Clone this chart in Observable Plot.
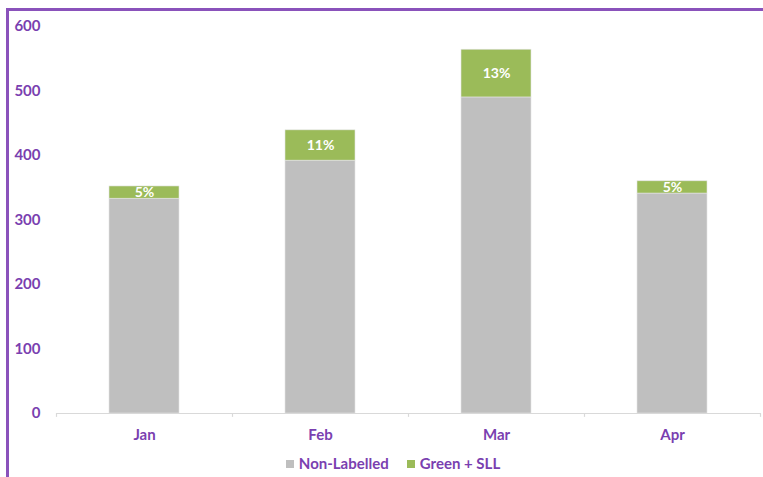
<!DOCTYPE html>
<html>
<head>
<meta charset="utf-8">
<script src="https://cdn.jsdelivr.net/npm/d3@7"></script>
<script src="https://cdn.jsdelivr.net/npm/@observablehq/plot@0.6"></script>
<style>
  html, body { margin: 0; padding: 0; background: #fff; }
  #wrap { position: relative; width: 763px; height: 477px; overflow: hidden; font-family: Lato, "Open Sans", sans-serif; }
  #frame { position: absolute; left: 6px; top: 8px; width: 800px; height: 500px;
           border-left: 3px solid #8a52bb; border-top: 3px solid #8a52bb; box-sizing: border-box; }
  #chart { position: absolute; left: 0; top: 0; }
  #legend { position: absolute; left: 0; top: 454px; width: 786px; text-align: center;
            font-weight: bold; font-size: 15px; color: #7a3fb0; }
  #legend span.item { margin: 0 9px; }
  #legend span.sw { display: inline-block; width: 8px; height: 8px; margin-right: 5px; vertical-align: 1px; }
</style>
</head>
<body>
<div id="wrap">
  <div id="frame"></div>
  <div id="chart"></div>
  <div id="legend"></div>
</div>
<script>
const months = ["Jan", "Feb", "Mar", "Apr"];
const nonLabelled = [333, 392, 490, 341];
const greenSLL = [19, 47, 74, 19];
const pctLabels = ["5%", "11%", "13%", "5%"];
const seriesNames = ["Non-Labelled", "Green + SLL"];
const seriesColors = ["#bfbfbf", "#9bbb59"];
const yTicks = [0, 100, 200, 300, 400, 500, 600];

const purple = "#7a3fb0";

const rows = [];
months.forEach((m, i) => {
  rows.push({month: m, series: seriesNames[0], value: nonLabelled[i]});
  rows.push({month: m, series: seriesNames[1], value: greenSLL[i]});
});
const labels = months.map((m, i) => ({month: m, mid: nonLabelled[i] + greenSLL[i] / 2, text: pctLabels[i]}));

const W = 763, H = 450, mL = 56, mR = 3;
const step = (W - mL - mR) / months.length;
const boundaries = months.map((m, i) => ({month: m, dx: -step / 2}))
  .concat([{month: months[months.length - 1], dx: step / 2}]);

const chart = Plot.plot({
  width: W,
  height: H,
  marginLeft: mL,
  marginRight: mR,
  marginTop: 26,
  marginBottom: 37,
  style: {fontFamily: "Lato, 'Open Sans', sans-serif", fontWeight: "bold", fontSize: "15px", color: purple, background: "transparent"},
  x: {domain: months, paddingInner: 0.6, paddingOuter: 0.3, label: null, tickSize: 0, tickPadding: 16},
  y: {domain: [0, 600], ticks: yTicks, label: null, tickSize: 0, tickPadding: 16},
  color: {domain: seriesNames, range: seriesColors},
  marks: [
    Plot.barY(rows, {x: "month", y: "value", fill: "series", order: seriesNames, stroke: "#e4e4e4", strokeWidth: 0.6}),
    Plot.ruleY([0], {stroke: "#d9d9d9", strokeWidth: 1.2}),
    ...boundaries.map(b => Plot.ruleX([b.month], {x: d => d, y1: 0, y2: -6, dx: b.dx, stroke: "#d9d9d9", strokeWidth: 1.2})),
    Plot.text(labels, {x: "month", y: "mid", text: "text", fill: "white", fontWeight: "bold", fontSize: 14})
  ]
});
document.getElementById("chart").appendChild(chart);

const legend = document.getElementById("legend");
seriesNames.forEach((s, i) => {
  const item = document.createElement("span");
  item.className = "item";
  const sw = document.createElement("span");
  sw.className = "sw";
  sw.style.background = seriesColors[i];
  item.appendChild(sw);
  item.appendChild(document.createTextNode(s));
  legend.appendChild(item);
});
</script>
</body>
</html>
